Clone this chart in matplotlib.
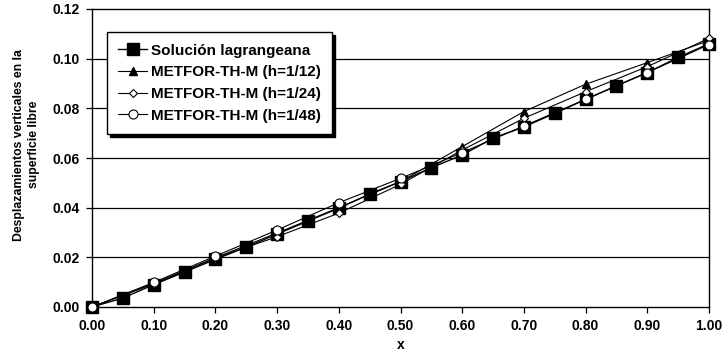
import matplotlib
matplotlib.use("Agg")
import matplotlib.pyplot as plt

plt.rcParams['font.family'] = ['Liberation Sans', 'DejaVu Sans']

x_lag = [0.00, 0.05, 0.10, 0.15, 0.20, 0.25, 0.30, 0.35, 0.40, 0.45, 0.50,
         0.55, 0.60, 0.65, 0.70, 0.75, 0.80, 0.85, 0.90, 0.95, 1.00]
y_lag = [0.0000, 0.0036, 0.0090, 0.0141, 0.0192, 0.0241, 0.0294, 0.0346, 0.0398, 0.0455, 0.0505,
         0.0561, 0.0612, 0.0680, 0.0725, 0.0780, 0.0836, 0.0891, 0.0944, 0.1005, 0.1060]

x_met = [0.0, 0.1, 0.2, 0.3, 0.4, 0.5, 0.6, 0.7, 0.8, 0.9, 1.0]
y_h12 = [0.0000, 0.0094, 0.0198, 0.0298, 0.0400, 0.0505, 0.0646, 0.0787, 0.0897, 0.0984, 0.1073]
y_h24 = [0.0000, 0.0094, 0.0198, 0.0283, 0.0378, 0.0494, 0.0632, 0.0760, 0.0867, 0.0968, 0.1082]
y_h48 = [0.0000, 0.0099, 0.0205, 0.0310, 0.0420, 0.0518, 0.0622, 0.0729, 0.0836, 0.0944, 0.1057]

labels = ['Solución lagrangeana', 'METFOR-TH-M (h=1/12)',
          'METFOR-TH-M (h=1/24)', 'METFOR-TH-M (h=1/48)']

fig = plt.figure(figsize=(7.24, 3.55), dpi=100)
ax = fig.add_axes([92/724, 1-307/355, 617/724, 298/355])

for yv in [0.02, 0.04, 0.06, 0.08, 0.10]:
    ax.axhline(yv, color='black', lw=0.9, zorder=0)

ax.plot(x_lag, y_lag, color='black', lw=1.0, marker='s', ms=8,
        mfc='black', mec='black', label=labels[0], zorder=3)
ax.plot(x_met, y_h12, color='black', lw=0.8, marker='^', ms=6,
        mfc='black', mec='black', label=labels[1], zorder=4)
ax.plot(x_met, y_h24, color='black', lw=0.8, marker='D', ms=4.5,
        mfc='white', mec='black', mew=0.8, label=labels[2], zorder=5)
ax.plot(x_met, y_h48, color='black', lw=0.8, marker='o', ms=6.5,
        mfc='white', mec='black', mew=0.8, label=labels[3], zorder=6)

ax.set_xlim(0, 1.0)
ax.set_ylim(0, 0.12)
xt = [i/10 for i in range(11)]
yt = [0.0, 0.02, 0.04, 0.06, 0.08, 0.10, 0.12]
ax.set_xticks(xt)
ax.set_yticks(yt)
ax.set_xticklabels([f'{v:.2f}' for v in xt], fontweight='bold', fontsize=10)
ax.set_yticklabels([f'{v:.2f}' for v in yt], fontweight='bold', fontsize=10)
ax.tick_params(direction='out', length=4, width=0.9, color='black', pad=5)
for s in ax.spines.values():
    s.set_linewidth(1.0)
    s.set_color('black')
for ln in ax.lines:
    ln.set_clip_on(False)

ax.set_xlabel('x', fontweight='bold', fontsize=10, labelpad=3)
ax.set_ylabel('Desplazamientos verticales en la\nsuperficie libre',
              fontweight='bold', fontsize=8.8, linespacing=1.3)
ax.yaxis.set_label_coords(-52/617, 0.545)

leg = ax.legend(loc='upper left', bbox_to_anchor=(0.024, 0.922),
                prop={'weight': 'bold', 'size': 11}, frameon=True, fancybox=False,
                edgecolor='black', framealpha=1, handlelength=1.9, handletextpad=0.25,
                borderpad=0.75, labelspacing=0.5, borderaxespad=0,
                shadow={'color': 'black', 'alpha': 1.0})
leg.get_frame().set_linewidth(1.0)

fig.savefig('out.png', dpi=100)
